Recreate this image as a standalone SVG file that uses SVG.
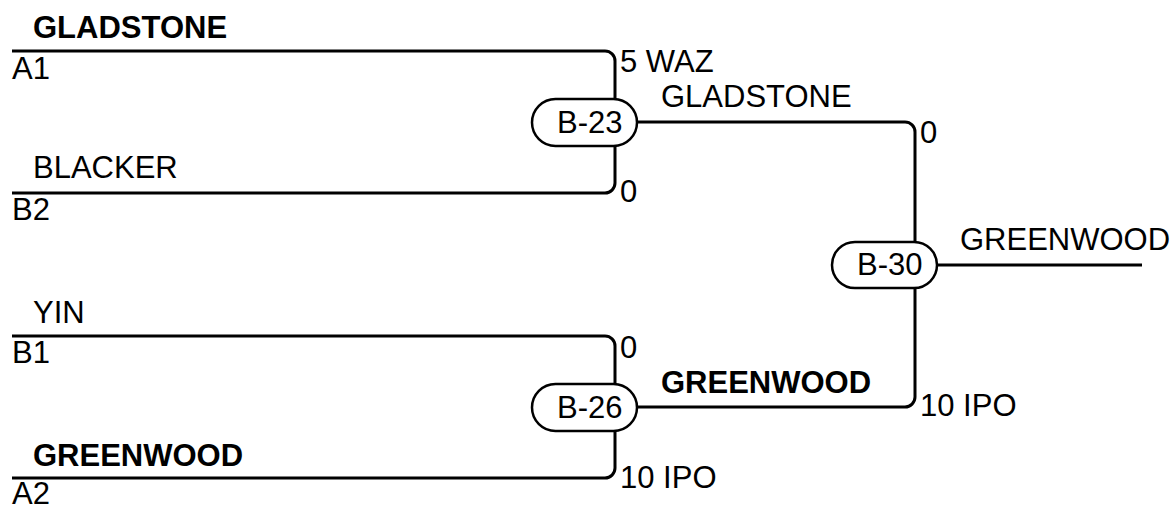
<svg xmlns="http://www.w3.org/2000/svg" width="1175" height="508" viewBox="0 0 1175 508">
<style>
.t{font-family:"Liberation Sans",Arial,sans-serif;font-size:31px;fill:#000}
.b{font-weight:bold}
.ln{fill:none;stroke:#000;stroke-width:3}
.pill{fill:#fff;stroke:#000;stroke-width:2.5}
</style>
<rect width="1175" height="508" fill="#fff"/>
<g id="connectors">
<path class="ln" d="M12,51 H605 A10,10 0 0 1 615,61 V99"/>
<path class="ln" d="M12,193 H605 A10,10 0 0 0 615,183 V146"/>
<path class="ln" d="M12,336 H605 A10,10 0 0 1 615,346 V384"/>
<path class="ln" d="M12,478 H605 A10,10 0 0 0 615,468 V431"/>
<path class="ln" d="M637,122 H905 A10,10 0 0 1 915,132 V242"/>
<path class="ln" d="M637,407 H905 A10,10 0 0 0 915,397 V288"/>
<path class="ln" d="M937,265 H1142"/>
</g>
<g id="labels">
<text class="t b" x="33" y="38">GLADSTONE</text>
<text class="t" x="12" y="79">A1</text>
<text class="t" x="620" y="72">5 WAZ</text>
<text class="t" x="661" y="107">GLADSTONE</text>
<text class="t" x="920" y="143">0</text>
<text class="t" x="33" y="178">BLACKER</text>
<text class="t" x="12" y="220">B2</text>
<text class="t" x="620" y="202">0</text>
<text class="t" x="960" y="250">GREENWOOD</text>
<text class="t" x="33" y="323">YIN</text>
<text class="t" x="12" y="363">B1</text>
<text class="t" x="620" y="358">0</text>
<text class="t b" x="661" y="393">GREENWOOD</text>
<text class="t" x="920" y="416">10 IPO</text>
<text class="t b" x="33" y="466">GREENWOOD</text>
<text class="t" x="12" y="504">A2</text>
<text class="t" x="620" y="488">10 IPO</text>
</g>
<g id="B-23">
<rect class="pill" x="532" y="99" width="105" height="47" rx="23.5"/>
<text class="t" x="557" y="133">B-23</text>
</g>
<g id="B-26">
<rect class="pill" x="532" y="384" width="105" height="47" rx="23.5"/>
<text class="t" x="557" y="418">B-26</text>
</g>
<g id="B-30">
<rect class="pill" x="832" y="242" width="105" height="46" rx="23"/>
<text class="t" x="857" y="275">B-30</text>
</g>
</svg>
